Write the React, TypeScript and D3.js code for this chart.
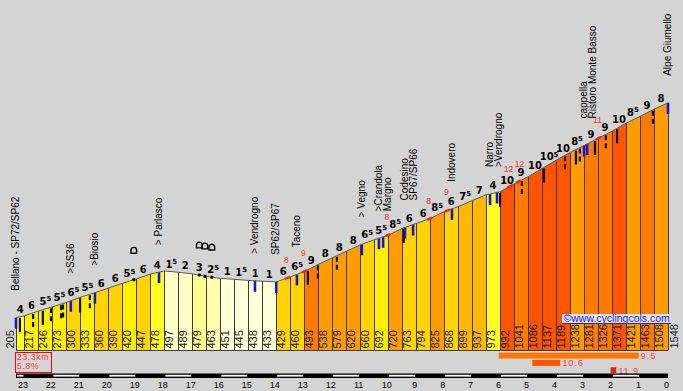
import React from 'react';
import * as d3 from 'd3';

// ---------- data ----------
const KM_POINTS = [23.3, 23, 22.5, 22, 21.5, 21, 20.5, 20, 19.5, 19, 18.5, 18, 17.5, 17, 16.5, 16, 15.5, 15, 14.5, 14, 13.5, 13, 12.5, 12, 11.5, 11, 10.5, 10, 9.5, 9, 8.5, 8, 7.5, 7, 6.5, 6, 5.5, 5, 4.5, 4, 3.5, 3, 2.5, 2, 1.5, 1, 0.5, 0];
const ELEVATIONS = [205, 217, 246, 273, 300, 333, 360, 390, 420, 447, 478, 497, 489, 479, 463, 451, 445, 438, 433, 429, 460, 493, 538, 579, 620, 660, 692, 720, 763, 794, 825, 868, 899, 937, 973, 992, 1041, 1086, 1137, 1189, 1238, 1281, 1326, 1371, 1421, 1463, 1508, 1548];

const PLACE_NAMES = ['Bellano - SP72/SP62', '>SS36', '>Biosio', '> Parlasco', '> Vendrogno', 'SP62/SP67', 'Taceno', '> Vegno', '>Crandola', 'Margno', 'Codesino', 'SP67/SP66', 'Indovero', 'Narro', '>Vendrogno', 'cappella', 'Ristoro Monte Basso', 'Alpe Giumello'];
const PLACE_KM = [23.3, 21.34, 20.48, 18.19, 14.76, 14.0, 13.26, 10.94, 10.33, 10.18, 9.4, 9.11, 7.72, 6.36, 6.11, 3.0, 2.89, 0];

const TUNNEL_KM = [19.14, 16.8, 16.6, 16.35];

const MARK_KM = [23.16, 22.69, 22.34, 22.05, 21.69, 21.62, 21.01, 20.66, 12.87, 12.51, 11.83, 9.44, 6.0, 5.22, 4.43, 3.68, 3.29, 3.15, 2.61, 2.22, 1.82, 0.54];
const MARK_DASHED = [false, true, false, true, true, true, false, true, false, true, true, false, false, true, false, true, false, true, false, true, false, true];

const PEAK_KM = [13.69, 13.08, 10.1, 8.61, 7.97, 5.75, 5.43, 2.57];
const PEAK_PCT = [8, 9, 8, 8, 9, 12, 12, 11];

const SECTION_FROM = [6.05, 4.85, 2.05];
const SECTION_TO = [1.05, 3.85, 1.85];
const SECTION_PCT = [9.5, 10.6, 11.9];

const KM_TICKS = [23, 22, 21, 20, 19, 18, 17, 16, 15, 14, 13, 12, 11, 10, 9, 8, 7, 6, 5, 4, 3, 2, 1, 0];

const TOTAL_KM = 23.3;
const AVG_PCT = 5.8;
const CREDIT = '©www.cyclingcols.com';

// ---------- styles ----------
const BG = '#D4D4D4';
const SANS = '"Liberation Sans", Arial, sans-serif';
const BOLD = '"DejaVu Sans", Verdana, sans-serif';

function gradeColor(g: number): string {
  if (g < 0) {
    const a = -g;
    if (a < 1.5) return '#FFFFD8';
    if (a < 2.2) return '#FFFFC6';
    if (a < 3) return '#FFFFAE';
    return '#FFFF8E';
  }
  if (g < 5) return '#FFFF22';
  if (g < 6) return '#FFF000';
  if (g < 7) return '#FFD400';
  if (g < 8) return '#FFB700';
  if (g < 9) return '#FF9D00';
  if (g < 9.5) return '#FF7B00';
  return '#FF5500';
}

function sectionColor(g: number): string {
  if (g < 10) return '#FF7700';
  if (g < 11) return '#FF5500';
  return '#E82200';
}

export default function App() {
  const W = 683;
  const H = 391;
  const x = d3.scaleLinear().domain([TOTAL_KM, 0]).range([16, 668]);
  const y = d3.scaleLinear().domain([0, 1600]).range([350.5, 94.5]);
  const elevAt = d3.scaleLinear().domain(KM_POINTS).range(ELEVATIONS);
  const profY = (km: number) => y(elevAt(km));

  const n = KM_POINTS.length;
  const bars = d3.range(n - 1).map((i) => {
    const k0 = KM_POINTS[i], k1 = KM_POINTS[i + 1];
    const e0 = ELEVATIONS[i], e1 = ELEVATIONS[i + 1];
    const g = ((e1 - e0) / ((k0 - k1) * 1000)) * 100;
    const r = Math.round(Math.abs(g) * 2) / 2;
    const main = Math.floor(r);
    const half = r - main > 0.25;
    return { i, k0, k1, e0, e1, g, main, half };
  });

  const line = d3.line<number>().x((_, i) => x(KM_POINTS[i])).y((e) => y(e));
  const profilePath = line(ELEVATIONS) || '';

  const placeLayout: { name: string; bx: number; bottom: number; mx: number; my: number }[] = [];
  let prevBx = -100;
  let prevBottom = 0;
  PLACE_NAMES.forEach((name, i) => {
    const km = PLACE_KM[i];
    const px = x(km);
    let bx = px + 3;
    let bottom = profY(km) - 27;
    if (bx < prevBx + 9) {
      bx = prevBx + 9;
      bottom = prevBottom;
    }
    prevBx = bx;
    prevBottom = bottom;
    placeLayout.push({ name, bx, bottom, mx: px, my: profY(km) });
  });

  const peakLayout: { km: number; pct: number; lx: number }[] = [];
  let prevLx = -100;
  PEAK_KM.forEach((km, i) => {
    let lx = x(km) + 1.5;
    if (lx < prevLx + 11) lx = prevLx + 11;
    prevLx = lx;
    peakLayout.push({ km, pct: PEAK_PCT[i], lx });
  });

  const baseY = y(0);

  return (
    <svg width={W} height={H} style={{ position: 'absolute', left: 0, top: 0, display: 'block' }}>
      <rect x={0} y={0} width={W} height={H} fill={BG} />

      {bars.map((b) => (
        <polygon
          key={'bar' + b.i}
          points={`${x(b.k0)},${baseY} ${x(b.k0)},${y(b.e0)} ${x(b.k1)},${y(b.e1)} ${x(b.k1)},${baseY}`}
          fill={gradeColor(b.g)}
        />
      ))}

      {KM_POINTS.map((km, i) => {
        let lx = x(km) + 8.5;
        if (i === 0) lx = x(km) - 2.5;
        if (i === n - 1) lx = x(km) + 9.5;
        return (
          <text
            key={'el' + i}
            transform={`translate(${lx},348.5) rotate(-90)`}
            fontFamily={SANS}
            fontSize={11}
            fill="#1a1a1a"
          >
            {ELEVATIONS[i]}
          </text>
        );
      })}

      {KM_POINTS.map((km, i) => (
        <line
          key={'sep' + i}
          x1={Math.round(x(km)) + 0.5}
          x2={Math.round(x(km)) + 0.5}
          y1={y(ELEVATIONS[i])}
          y2={baseY}
          stroke="#3c3c3c"
          strokeWidth={1}
        />
      ))}
      <line x1={x(TOTAL_KM)} x2={x(0)} y1={baseY} y2={baseY} stroke="#3c3c3c" strokeWidth={1} />

      {MARK_KM.map((km, i) => (
        <line
          key={'mk' + i}
          x1={x(km)}
          x2={x(km)}
          y1={profY(km) + 1}
          y2={profY(km) + 15}
          stroke="#111"
          strokeWidth={2.2}
          strokeDasharray={MARK_DASHED[i] ? '5,3' : undefined}
        />
      ))}

      {placeLayout.map((p, i) => (
        <line
          key={'bm' + i}
          x1={p.mx}
          x2={p.mx}
          y1={p.my}
          y2={p.my + 11}
          stroke="#1414E6"
          strokeWidth={2.6}
        />
      ))}

      <path d={profilePath} fill="none" stroke="#5a5a5a" strokeWidth={1} />

      {TUNNEL_KM.map((km, i) => {
        const k1 = km - 0.1;
        const cx = x(km - 0.05);
        const b = profY(km) - 27;
        return (
          <g key={'tn' + i}>
            <line x1={x(km)} x2={x(k1)} y1={profY(km)} y2={profY(k1)} stroke="#000" strokeWidth={3} />
            <path
              d={`M${cx - 2.8},${b} V${b - 3} A2.8 2.8 0 0 1 ${cx + 2.8},${b - 3} V${b} Z`}
              fill="none"
              stroke="#000"
              strokeWidth={1.4}
            />
          </g>
        );
      })}

      {peakLayout.map((p, i) => (
        <g key={'pk' + i}>
          <line
            x1={x(p.km)}
            x2={x(p.km - 0.18)}
            y1={profY(p.km)}
            y2={profY(p.km - 0.18)}
            stroke="#FF1E1E"
            strokeWidth={2.4}
          />
          <text x={p.lx} y={profY(p.km) - 16} textAnchor="middle" fontFamily={SANS} fontSize={8.5} fill="#FF2A2A">
            {p.pct}
          </text>
        </g>
      ))}

      {bars.map((b) => {
        const cx = (x(b.k0) + x(b.k1)) / 2;
        const by = y((b.e0 + b.e1) / 2) - 4;
        return (
          <text
            key={'gl' + b.i}
            x={cx}
            y={by}
            textAnchor="middle"
            fontFamily={BOLD}
            fontWeight="bold"
            fontSize={10}
            fill="#000"
          >
            {b.main}
            {b.half ? (
              <tspan fontSize={7} dy={-3.5}>
                5
              </tspan>
            ) : null}
          </text>
        );
      })}

      {placeLayout.map((p, i) => (
        <text
          key={'pl' + i}
          transform={`translate(${p.bx},${p.bottom}) rotate(-90)`}
          fontFamily={SANS}
          fontSize={10}
          fill="#000"
        >
          {p.name}
        </text>
      ))}

      <rect x={562} y={314} width={109} height={10} fill="#E6E6EE" />
      <line x1={562} x2={671} y1={323.5} y2={323.5} stroke="#2020E8" strokeWidth={1} />
      <text x={563.5} y={322} fontFamily={SANS} fontSize={10.5} fill="#2020F0">
        {CREDIT}
      </text>

      <rect x={15.5} y={352.5} width={36} height={20} fill="none" stroke="#FF0000" strokeWidth={1} />
      <text x={17} y={360.3} fontFamily={SANS} fontSize={8.5} letterSpacing={0.7} fill="#FF3B3B">
        {TOTAL_KM}km
      </text>
      <text x={17} y={369.3} fontFamily={SANS} fontSize={8.5} letterSpacing={0.7} fill="#FF3B3B">
        {AVG_PCT}%
      </text>

      {SECTION_PCT.map((g, i) => {
        const y0 = 352.6 + i * 7.3;
        return (
          <g key={'sc' + i}>
            <rect
              x={x(SECTION_FROM[i])}
              y={y0}
              width={x(SECTION_TO[i]) - x(SECTION_FROM[i])}
              height={6}
              fill={sectionColor(g)}
            />
            <text
              x={x(SECTION_TO[i]) + 2}
              y={y0 + 6.4}
              fontFamily={SANS}
              fontSize={9.5}
              letterSpacing={0.8}
              fill="#FF3B3B"
            >
              {g}
            </text>
          </g>
        );
      })}

      <rect x={x(TOTAL_KM)} y={373.5} width={x(0) - x(TOTAL_KM)} height={4.5} fill="#000" />
      <rect x={x(TOTAL_KM) + 1} y={374.8} width={x(KM_TICKS[0]) - x(TOTAL_KM) - 2} height={1.8} fill="#fff" />
      {KM_TICKS.slice(0, -1).map((k, i) =>
        k % 2 === 0 ? (
          <rect
            key={'ws' + i}
            x={x(k) + 1}
            y={374.8}
            width={x(KM_TICKS[i + 1]) - x(k) - 2}
            height={1.8}
            fill="#fff"
          />
        ) : null
      )}
      {KM_TICKS.map((k) => (
        <text key={'kt' + k} x={x(k) - 1.5} y={388} textAnchor="middle" fontFamily={SANS} fontSize={9} fill="#000">
          {k}
        </text>
      ))}
    </svg>
  );
}
